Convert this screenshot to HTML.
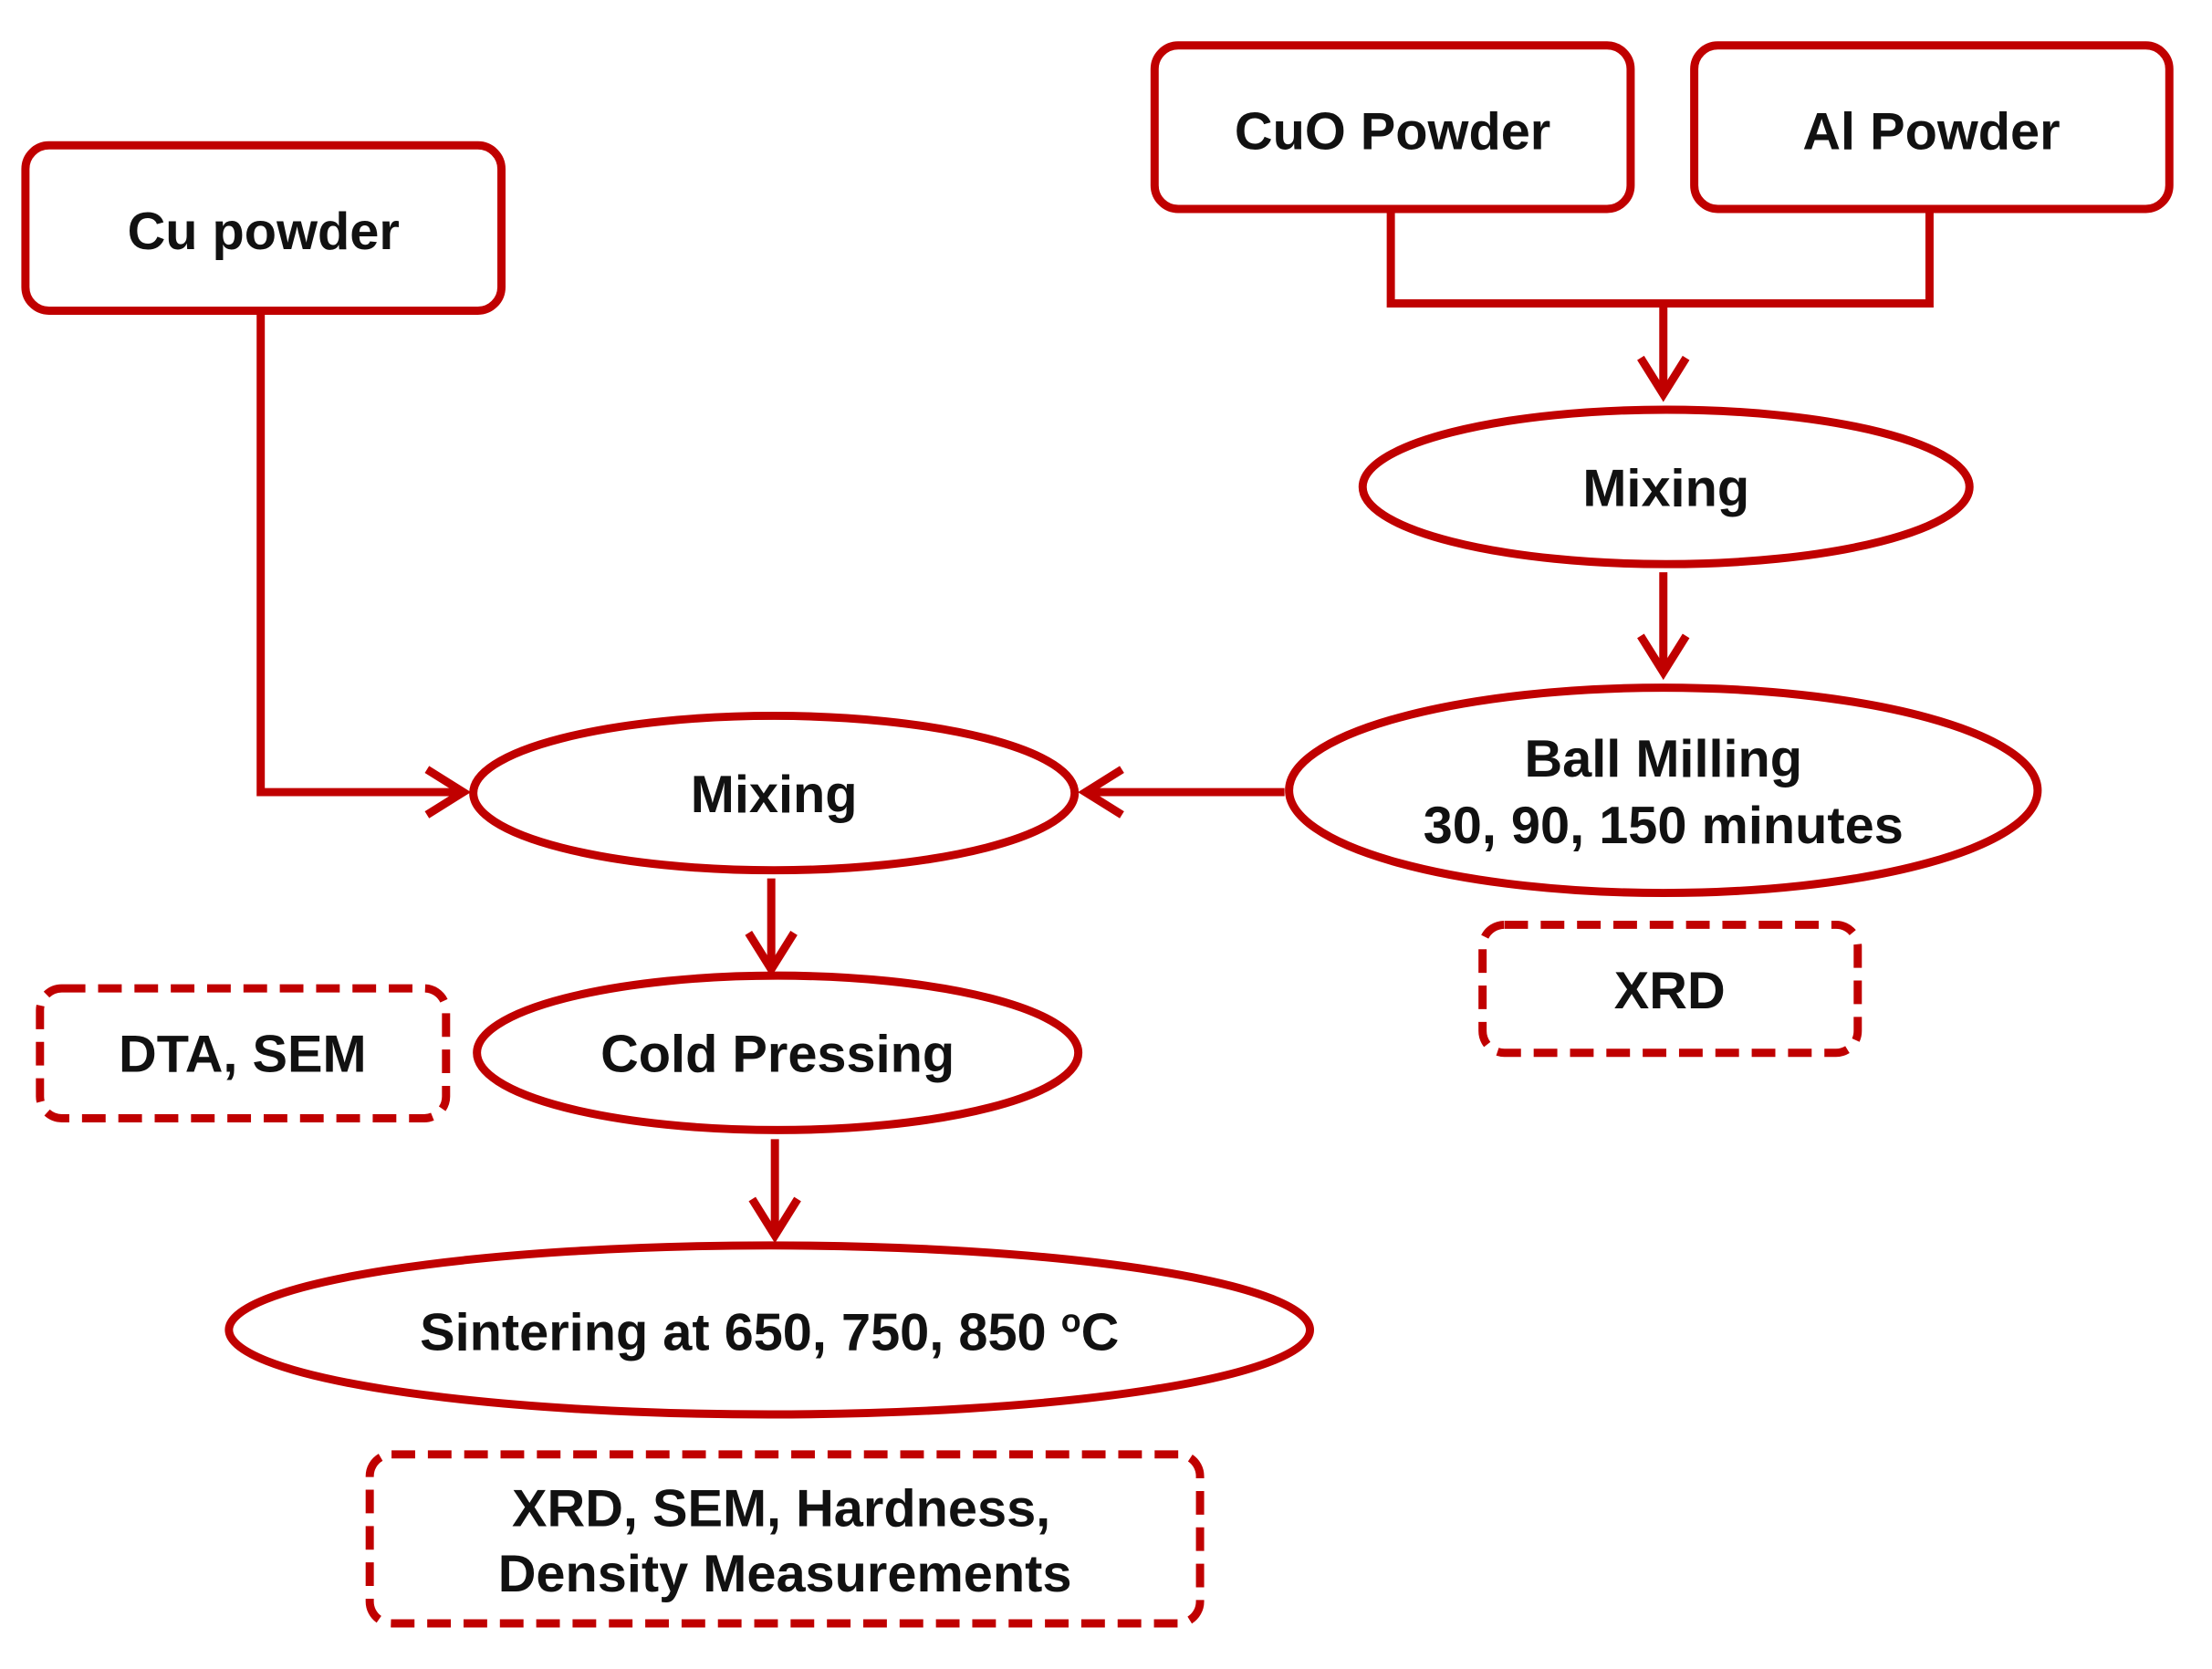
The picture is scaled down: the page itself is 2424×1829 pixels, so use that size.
<!DOCTYPE html>
<html><head><meta charset="utf-8"><style>html,body{margin:0;padding:0;background:#fff}</style></head>
<body>
<svg width="2424" height="1824" viewBox="0 0 2424 1824" xmlns="http://www.w3.org/2000/svg">
<g transform="scale(0.9955)">
<g fill="none" stroke="#c00000" stroke-width="9">
<rect x="28" y="160" width="524" height="182" rx="26"/>
<rect x="1271" y="50" width="524" height="180" rx="26"/>
<rect x="1865" y="50" width="523" height="180" rx="26"/>
<polyline points="1531,230 1531,334 2124,334 2124,230"/>
<line x1="1831" y1="334" x2="1831" y2="434"/>
<polyline points="1806,394 1831,434 1856,394"/>
<ellipse cx="1834" cy="536" rx="334" ry="85"/>
<line x1="1831" y1="630" x2="1831" y2="740"/>
<polyline points="1806,700 1831,740 1856,700"/>
<ellipse cx="1831" cy="870" rx="412" ry="113"/>
<line x1="1414" y1="872" x2="1195" y2="872"/>
<polyline points="1235,847 1195,872 1235,897"/>
<ellipse cx="852" cy="873" rx="331" ry="85"/>
<polyline points="287,342 287,872 510,872"/>
<polyline points="470,847 510,872 470,897"/>
<line x1="849" y1="967" x2="849" y2="1067"/>
<polyline points="824,1027 849,1067 874,1027"/>
<ellipse cx="856" cy="1159" rx="331" ry="85"/>
<line x1="853" y1="1254" x2="853" y2="1360"/>
<polyline points="828,1320 853,1360 878,1320"/>
<ellipse cx="847" cy="1464" rx="595" ry="93"/>
<g stroke-dasharray="26,14">
<rect x="44" y="1088" width="447" height="143" rx="24"/>
<rect x="1632" y="1018" width="413" height="141" rx="24"/>
<rect x="407" y="1601" width="914" height="186" rx="24"/>
</g>
</g>
<g font-family="Liberation Sans, sans-serif" font-weight="bold" font-size="58" fill="#111" text-anchor="middle">
<text x="290" y="274">Cu powder</text>
<text x="1533" y="164">CuO Powder</text>
<text x="2126" y="164">Al Powder</text>
<text x="1834" y="557">Mixing</text>
<text x="1831" y="855">Ball Milling</text>
<text x="1831" y="928">30, 90, 150 minutes</text>
<text x="852" y="894">Mixing</text>
<text x="856" y="1180">Cold Pressing</text>
<text x="847" y="1486">Sintering at 650, 750, 850 <tspan font-size="36" dy="-20">o</tspan><tspan dy="20">C</tspan></text>
<text x="267" y="1180">DTA, SEM</text>
<text x="1838" y="1110">XRD</text>
<text x="860" y="1680">XRD, SEM, Hardness,</text>
<text x="864" y="1752">Density Measurements</text>
</g>
</g>
</svg>
</body></html>
